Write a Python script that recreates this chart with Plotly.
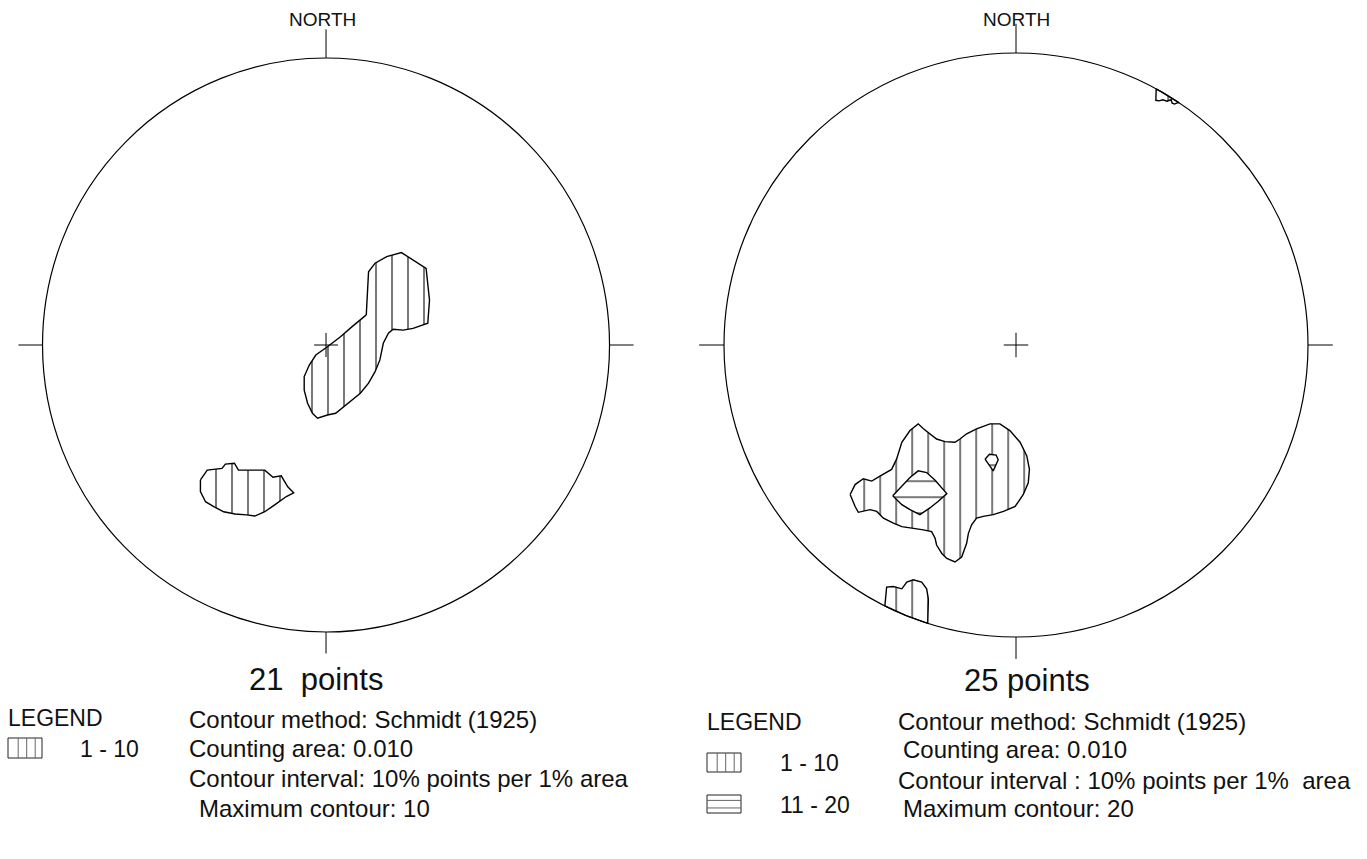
import numpy as np
import plotly.graph_objects as go

W, H = 1367, 859

# ---- contour polygons in net coordinates (x = east, y = north, unit = primitive radius)

# 21 points net, level 1-10
net1_lvl1_a_x = [0.142, 0.150, 0.173, 0.214, 0.266, 0.307, 0.353, 0.365, 0.359, 0.307, 0.272,
                 0.237, 0.220, 0.202, 0.190, 0.173, 0.150, 0.121, 0.086, 0.057, 0.034, 0.005,
                 -0.030, -0.048, -0.065, -0.077, -0.077, -0.059, -0.036, 0.005, 0.051, 0.092, 0.121]
net1_lvl1_a_y = [0.105, 0.255, 0.285, 0.308, 0.322, 0.296, 0.267, 0.157, 0.076, 0.058, 0.052,
                 0.055, 0.041, 0.006, -0.052, -0.093, -0.133, -0.168, -0.197, -0.221, -0.238, -0.244,
                 -0.255, -0.238, -0.203, -0.157, -0.110, -0.070, -0.035, -0.006, 0.029, 0.064, 0.087]

net1_lvl1_b_x = [-0.443, -0.419, -0.367, -0.355, -0.323, -0.309, -0.216, -0.187, -0.158, -0.135,
                 -0.114, -0.140, -0.181, -0.216, -0.251, -0.280, -0.321, -0.361, -0.396, -0.425, -0.443]
net1_lvl1_b_y = [-0.470, -0.436, -0.430, -0.415, -0.412, -0.436, -0.436, -0.461, -0.456, -0.494,
                 -0.515, -0.528, -0.557, -0.581, -0.596, -0.592, -0.589, -0.581, -0.563, -0.546, -0.511]

# 25 points net, level 1-10
net2_lvl1_a_x = [-0.568, -0.551, -0.523, -0.494, -0.466, -0.426, -0.409, -0.391, -0.363, -0.335,
                 -0.317, -0.295, -0.272, -0.243, -0.209, -0.192, -0.169, -0.135, -0.089, -0.055,
                 -0.021, 0.014, 0.037, 0.046, 0.042, 0.025, -0.003, -0.043, -0.078, -0.112,
                 -0.135, -0.152, -0.163, -0.169, -0.186, -0.209, -0.237, -0.254, -0.272, -0.277,
                 -0.289, -0.317, -0.363, -0.391, -0.420, -0.454, -0.477, -0.500, -0.540, -0.551]
net2_lvl1_a_y = [-0.512, -0.478, -0.458, -0.466, -0.449, -0.426, -0.391, -0.333, -0.293, -0.270,
                 -0.287, -0.304, -0.322, -0.331, -0.333, -0.322, -0.304, -0.287, -0.270, -0.270,
                 -0.293, -0.333, -0.380, -0.426, -0.472, -0.512, -0.553, -0.570, -0.581, -0.587,
                 -0.593, -0.616, -0.645, -0.679, -0.726, -0.743, -0.731, -0.714, -0.685, -0.662,
                 -0.639, -0.633, -0.627, -0.622, -0.610, -0.593, -0.570, -0.564, -0.573, -0.553]

# lobe touching the primitive in the south-west (closed along the rim)
net2_lvl1_b_x = [-0.449, -0.443, -0.420, -0.391, -0.374, -0.352, -0.323, -0.306, -0.300, -0.302]
net2_lvl1_b_y = [-0.892, -0.829, -0.827, -0.835, -0.812, -0.804, -0.812, -0.835, -0.870, -0.952]

# lobe touching the primitive in the north-east (closed along the rim)
net2_lvl1_c_x = [0.480, 0.479, 0.490, 0.503, 0.517, 0.531, 0.535, 0.543, 0.552, 0.558]
net2_lvl1_c_y = [0.877, 0.838, 0.836, 0.840, 0.835, 0.840, 0.828, 0.825, 0.829, 0.830]

# 25 points net, level 11-20
net2_lvl2_a_x = [-0.422, -0.391, -0.363, -0.335, -0.306, -0.277, -0.237, -0.266, -0.295, -0.329, -0.363, -0.391]
net2_lvl2_a_y = [-0.516, -0.483, -0.454, -0.431, -0.437, -0.463, -0.509, -0.535, -0.558, -0.581, -0.564, -0.547]

net2_lvl2_b_x = [-0.106, -0.091, -0.068, -0.061, -0.078, -0.098]
net2_lvl2_b_y = [-0.391, -0.374, -0.377, -0.393, -0.431, -0.402]

# ---- text
n_points = ["21  points", "25 points"]
legend_ranges = [["1 - 10"], ["1 - 10", "11 - 20"]]
info_lines = [
    ["Contour method: Schmidt (1925)", "Counting area: 0.010",
     "Contour interval: 10% points per 1% area", "Maximum contour: 10"],
    ["Contour method: Schmidt (1925)", "Counting area: 0.010",
     "Contour interval : 10% points per 1%  area", "Maximum contour: 20"],
]

FONT = "Liberation Sans, Arial, Helvetica, sans-serif"

# ---- net placement on the page (pixels)
nets = [dict(cx=322, cy=345, r=287), dict(cx=1016, cy=345, r=292)]
EXT = 1.15


def rim_close(xs, ys, n=24):
    a0 = np.arctan2(ys[-1], xs[-1])
    a1 = np.arctan2(ys[0], xs[0])
    t = np.linspace(a0, a1, n)
    return list(xs) + list(np.cos(t)), list(ys) + list(np.sin(t))


def closed(xs, ys):
    return list(xs) + [xs[0]], list(ys) + [ys[0]]


fig = go.Figure()

layout_axes = {}
for i, n in enumerate(nets, start=1):
    sx = "" if i == 1 else str(i)
    x0 = (n["cx"] - EXT * n["r"]) / W
    x1 = (n["cx"] + EXT * n["r"]) / W
    y0 = (H - n["cy"] - EXT * n["r"]) / H
    y1 = (H - n["cy"] + EXT * n["r"]) / H
    layout_axes["xaxis" + sx] = dict(domain=[max(0, x0), min(1, x1)], range=[-EXT, EXT],
                                     visible=False, fixedrange=True, anchor="y" + sx)
    layout_axes["yaxis" + sx] = dict(domain=[max(0, y0), min(1, y1)], range=[-EXT, EXT],
                                     visible=False, fixedrange=True, anchor="x" + sx)

vert = dict(shape="|", size=16, solidity=0.09, fgcolor="#444444", bgcolor="white", fillmode="replace")
horz = dict(shape="-", size=16, solidity=0.09, fgcolor="#444444", bgcolor="white", fillmode="replace")
outline = dict(color="black", width=1.4)


def add_region(xs, ys, pattern, ax):
    fig.add_trace(go.Scatter(x=xs, y=ys, mode="lines", fill="toself", fillcolor="white",
                             fillpattern=pattern, line=outline, hoverinfo="skip",
                             xaxis="x" + ax, yaxis="y" + ax))


# 21 points net
for xs, ys in [(net1_lvl1_a_x, net1_lvl1_a_y), (net1_lvl1_b_x, net1_lvl1_b_y)]:
    add_region(*closed(xs, ys), vert, "")

# 25 points net
add_region(*closed(net2_lvl1_a_x, net2_lvl1_a_y), vert, "2")
add_region(*rim_close(net2_lvl1_b_x, net2_lvl1_b_y), vert, "2")
add_region(*rim_close(net2_lvl1_c_x, net2_lvl1_c_y), vert, "2")
add_region(*closed(net2_lvl2_a_x, net2_lvl2_a_y), horz, "2")
add_region(*closed(net2_lvl2_b_x, net2_lvl2_b_y), horz, "2")

shapes = []
annotations = []
for i, n in enumerate(nets, start=1):
    sx = "" if i == 1 else str(i)
    xr, yr = "x" + sx, "y" + sx
    shapes.append(dict(type="circle", xref=xr, yref=yr, x0=-1, y0=-1, x1=1, y1=1,
                       line=dict(color="black", width=1.2)))
    for (a, b, c, d) in [(0, 1, 0, 1.10), (0, -1, 0, -1.075), (-1, 0, -1.085, 0), (1, 0, 1.085, 0),
                         (-0.042, 0, 0.042, 0), (0, -0.042, 0, 0.042)]:
        shapes.append(dict(type="line", xref=xr, yref=yr, x0=a, y0=b, x1=c, y1=d,
                           line=dict(color="black", width=1)))
    annotations.append(dict(x=n["cx"] / W, y=1 - 20 / H, xref="paper", yref="paper",
                            text="NORTH", showarrow=False, xanchor="center", yanchor="middle",
                            font=dict(family=FONT, size=19, color="#111")))


def px(x, y):
    return x / W, 1 - y / H


def text(x, y, s, size=24, anchor="left"):
    xx, yy = px(x, y)
    annotations.append(dict(x=xx, y=yy, xref="paper", yref="paper", text=s, showarrow=False,
                            xanchor=anchor, yanchor="middle",
                            font=dict(family=FONT, size=size, color="#111")))


# captions
text(316, 679, n_points[0], size=31, anchor="center")
text(1027, 680, n_points[1], size=31, anchor="center")

# left legend block
text(6, 718, "LEGEND", size=23)
text(78, 749, legend_ranges[0][0], size=23)
text(187, 719, info_lines[0][0])
text(187, 748, info_lines[0][1])
text(187, 778, info_lines[0][2])
text(197, 808, info_lines[0][3])

# right legend block
text(705, 722, "LEGEND", size=23)
text(778, 763, legend_ranges[1][0], size=23)
text(778, 805, legend_ranges[1][1], size=23)
text(896, 721, info_lines[1][0])
text(901, 749, info_lines[1][1])
text(896, 780, info_lines[1][2])
text(901, 808, info_lines[1][3])


def swatch(x0, y0, x1, y1, kind):
    a, b = px(x0, y0)
    c, d = px(x1, y1)
    shapes.append(dict(type="rect", xref="paper", yref="paper", x0=a, y0=b, x1=c, y1=d,
                       line=dict(color="#222", width=1)))
    for f in ([0.3, 0.55, 0.8] if kind == "v" else [0.3, 0.72]):
        if kind == "v":
            xx = px(x0 + f * (x1 - x0), 0)[0]
            shapes.append(dict(type="line", xref="paper", yref="paper", x0=xx, x1=xx, y0=b, y1=d,
                               line=dict(color="#666", width=1)))
        else:
            yy = px(0, y0 + f * (y1 - y0))[1]
            shapes.append(dict(type="line", xref="paper", yref="paper", x0=a, x1=c, y0=yy, y1=yy,
                               line=dict(color="#666", width=1)))


swatch(8, 738, 42, 758, "v")
swatch(707, 753, 741, 772, "v")
swatch(707, 795, 741, 813, "h")

fig.update_layout(
    width=W, height=H, margin=dict(l=0, r=0, t=0, b=0),
    paper_bgcolor="white", plot_bgcolor="white", showlegend=False,
    shapes=shapes, annotations=annotations, **layout_axes,
)

fig.write_html("out.html")
